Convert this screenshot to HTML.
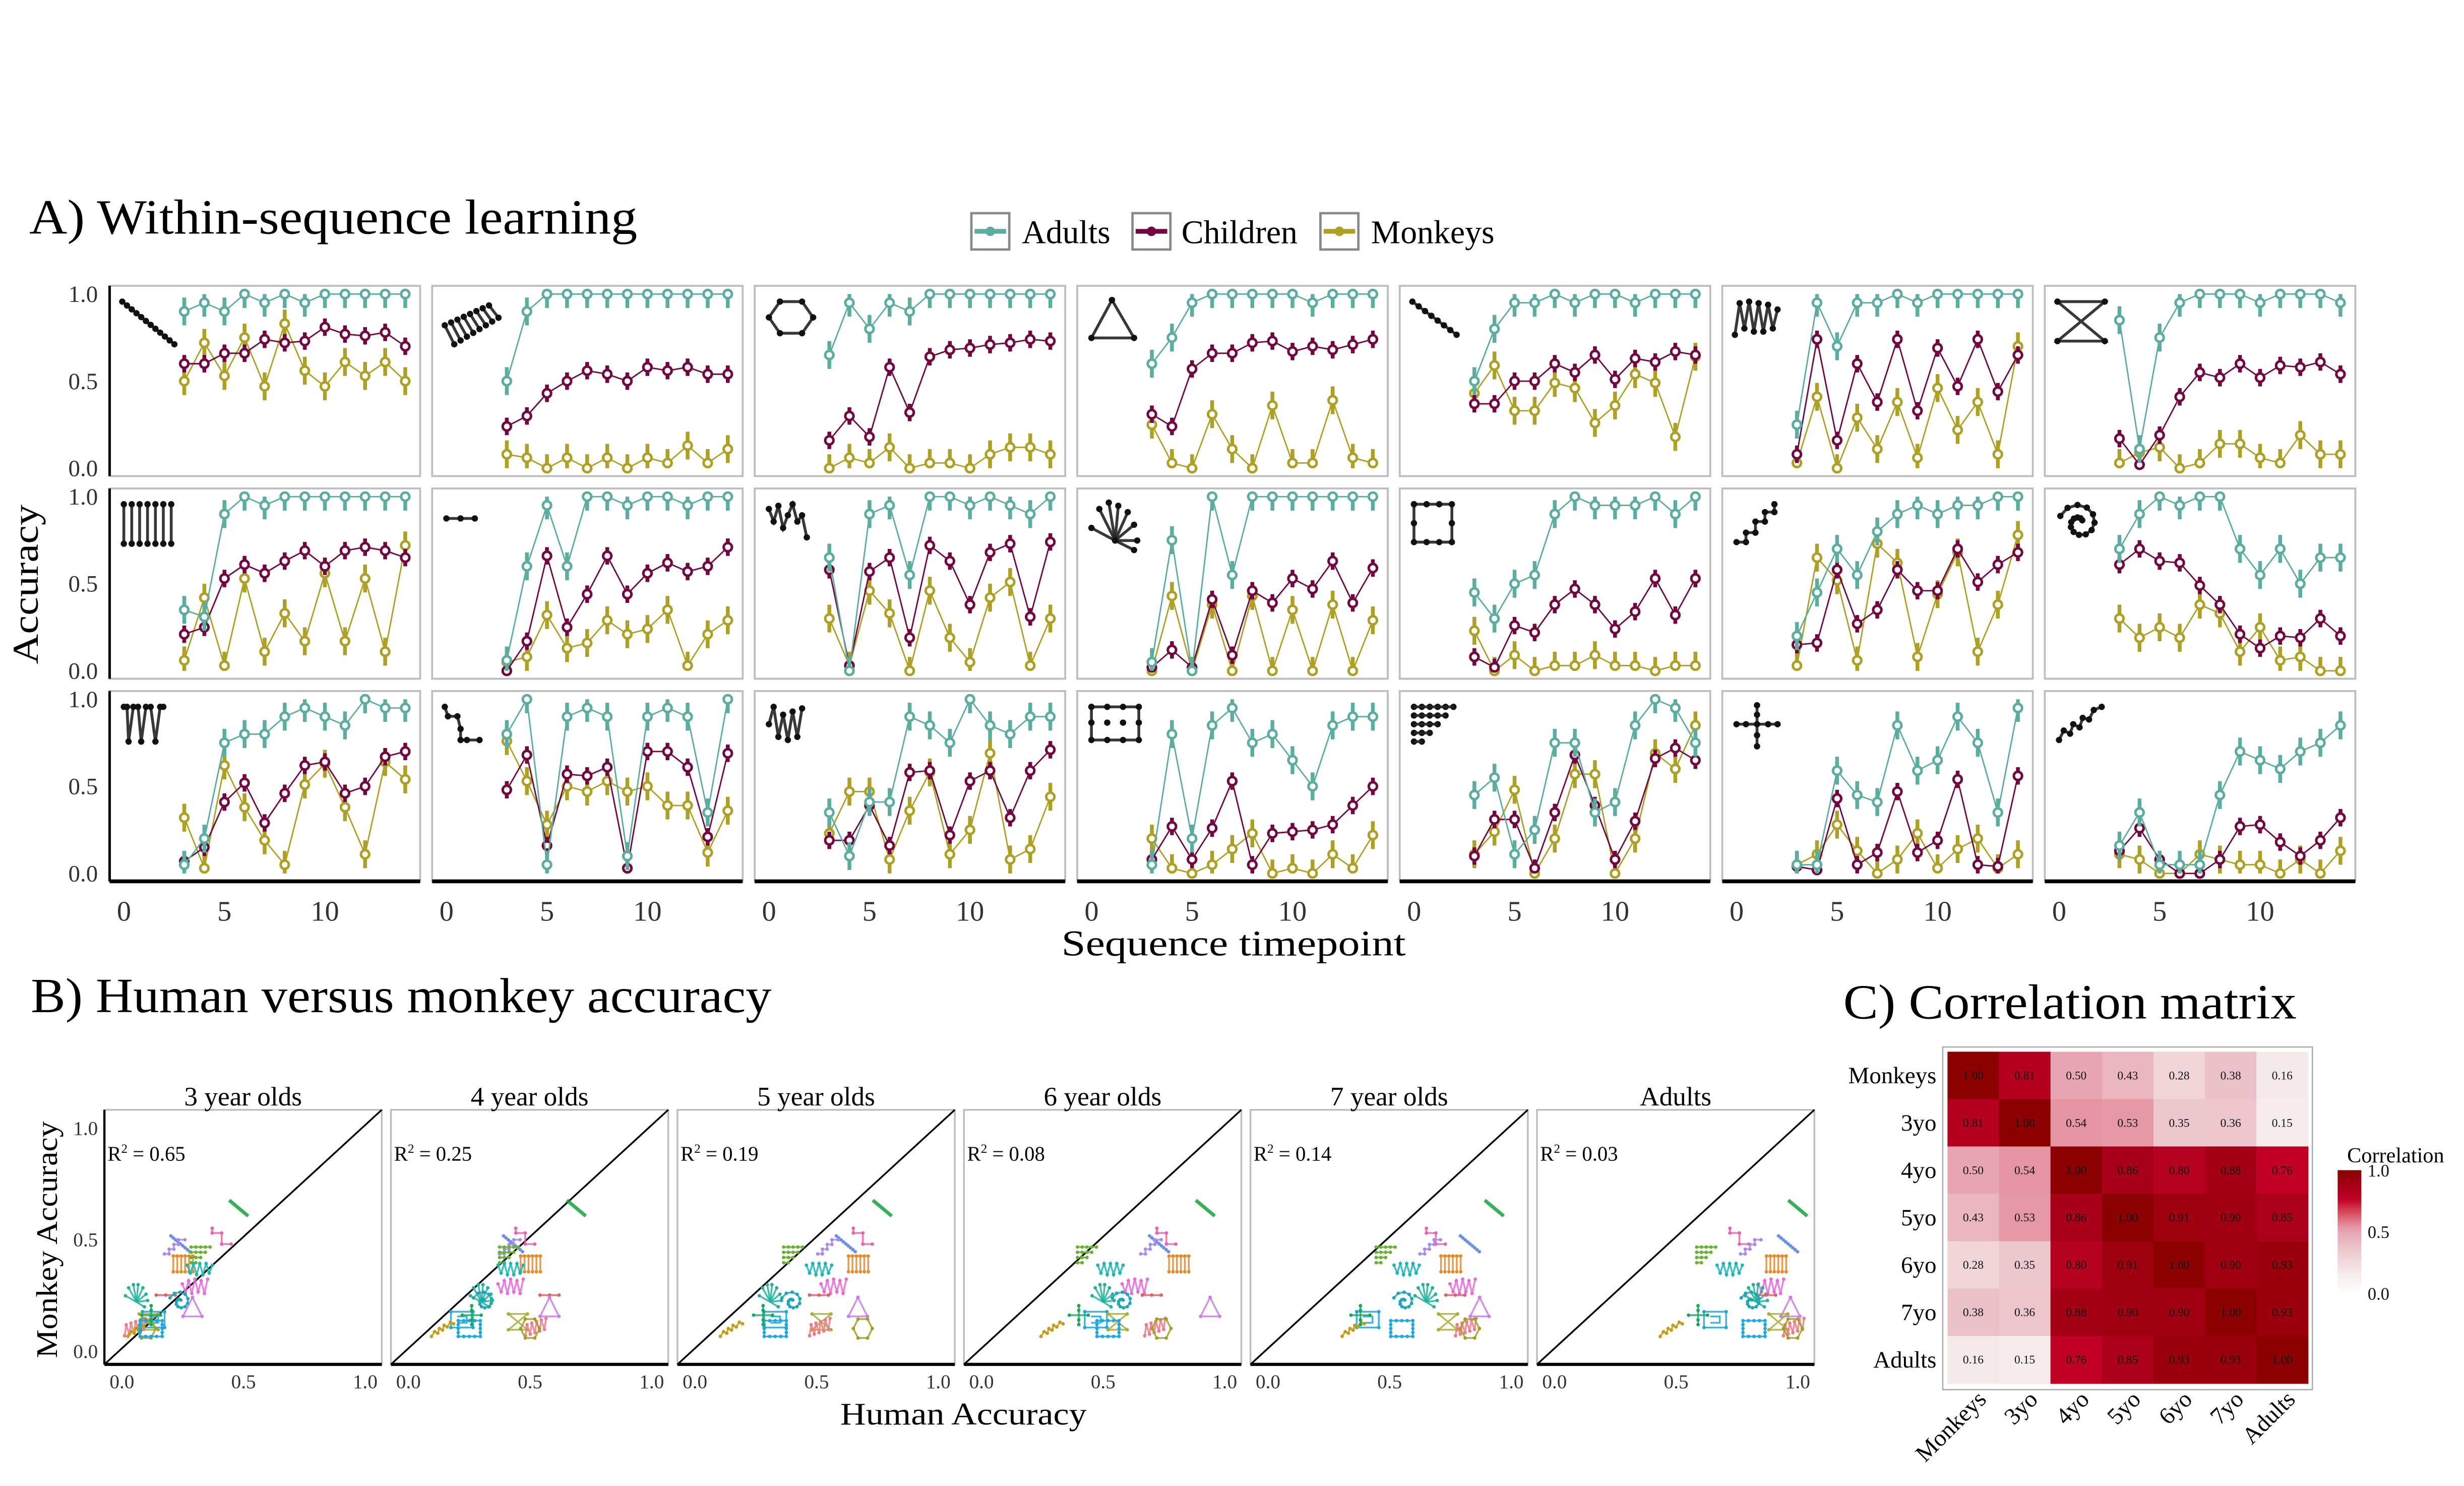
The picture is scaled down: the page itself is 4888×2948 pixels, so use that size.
<!DOCTYPE html>
<html><head><meta charset="utf-8"><style>
html,body{margin:0;padding:0;background:#fff;}
svg{display:block;}
text{font-family:"Liberation Serif",serif;}
</style></head>
<body>
<svg id="fig" xmlns="http://www.w3.org/2000/svg" width="4888" height="2948" viewBox="0 0 1560 941" preserveAspectRatio="none">
<rect x="0" y="0" width="1560" height="941" fill="#fff"/>
<text x="18.5" y="148" font-size="31" textLength="385" lengthAdjust="spacingAndGlyphs">A) Within-sequence learning</text>
<g>
 <g>
  <rect x="615" y="135" width="24" height="23" fill="#fff" stroke="#888" stroke-width="1.5"/>
  <line x1="617" y1="146.5" x2="637" y2="146.5" stroke="#5aae9f" stroke-width="3"/><circle cx="627" cy="146.5" r="3" fill="#5aae9f"/>
  <text x="647" y="154" font-size="21">Adults</text></g>
 <g>
  <rect x="717" y="135" width="24" height="23" fill="#fff" stroke="#888" stroke-width="1.5"/>
  <line x1="719" y1="146.5" x2="739" y2="146.5" stroke="#74053f" stroke-width="3"/><circle cx="729" cy="146.5" r="3" fill="#74053f"/>
  <text x="748" y="154" font-size="21">Children</text></g>
 <g>
  <rect x="836" y="135" width="24" height="23" fill="#fff" stroke="#888" stroke-width="1.5"/>
  <line x1="838" y1="146.5" x2="858" y2="146.5" stroke="#aea022" stroke-width="3"/><circle cx="848" cy="146.5" r="3" fill="#aea022"/>
  <text x="868" y="154" font-size="21">Monkeys</text></g>
</g>
<text transform="translate(24,370) rotate(-90)" text-anchor="middle" font-size="23" textLength="101" lengthAdjust="spacingAndGlyphs">Accuracy</text>
<text x="781" y="605" text-anchor="middle" font-size="23" textLength="218" lengthAdjust="spacingAndGlyphs">Sequence timepoint</text>
<g id="panelA"></g>

<text x="19.5" y="641" font-size="31" textLength="469" lengthAdjust="spacingAndGlyphs">B) Human versus monkey accuracy</text>
<text transform="translate(36,785) rotate(-90)" text-anchor="middle" font-size="19" textLength="150" lengthAdjust="spacingAndGlyphs">Monkey Accuracy</text>
<text x="610" y="902" text-anchor="middle" font-size="20" textLength="156" lengthAdjust="spacingAndGlyphs">Human Accuracy</text>
<g id="panelB"></g>

<text x="1167" y="645" font-size="31" textLength="287" lengthAdjust="spacingAndGlyphs">C) Correlation matrix</text>
<g id="panelC"></g>
</svg>
<script>
// ---------- Panel A data ----------
const timepoints = [3,4,5,6,7,8,9,10,11,12,13,14];
const xTickLabels = [0,5,10];
const yTickLabels = [0.0,0.5,1.0];
const adults = [
 [0.90,0.95,0.90,1,0.95,1,0.95,1,1,1,1,1],
 [0.50,0.90,1,1,1,1,1,1,1,1,1,1],
 [0.65,0.95,0.80,0.95,0.90,1,1,1,1,1,1,1],
 [0.60,0.75,0.95,1,1,1,1,1,0.95,1,1,1],
 [0.50,0.80,0.95,0.95,1,0.95,1,1,0.95,1,1,1],
 [0.25,0.95,0.70,0.95,0.95,1,0.95,1,1,1,1,1],
 [0.85,0.11,0.75,0.95,1,1,1,0.95,1,1,1,0.95],
 [0.35,0.31,0.90,1,0.95,1,1,1,1,1,1,1],
 [0.06,0.60,0.95,0.60,1,1,0.95,1,1,0.95,1,1],
 [0.65,0,0.90,0.95,0.55,1,1,0.95,1,0.95,0.90,1],
 [0.05,0.75,0,1,0.55,1,1,1,1,1,1,1],
 [0.45,0.30,0.50,0.55,0.90,1,0.95,0.95,0.95,1,0.90,1],
 [0.20,0.45,0.70,0.55,0.80,0.90,0.95,0.90,0.95,0.95,1,1],
 [0.70,0.90,1,0.95,1,1,0.70,0.55,0.70,0.50,0.65,0.65],
 [0.05,0.20,0.75,0.80,0.80,0.90,0.95,0.90,0.85,1,0.95,0.95],
 [0.80,1,0.05,0.90,0.95,0.90,0.10,0.90,0.95,0.90,0.35,1],
 [0.35,0.10,0.41,0.41,0.90,0.85,0.75,1,0.85,0.80,0.90,0.90],
 [0.05,0.80,0.20,0.85,0.95,0.75,0.80,0.65,0.50,0.85,0.90,0.90],
 [0.45,0.55,0.11,0.25,0.75,0.75,0.35,0.41,0.85,1,0.95,0.75],
 [0.05,0.05,0.59,0.45,0.41,0.85,0.59,0.65,0.90,0.75,0.35,0.95],
 [0.16,0.35,0.05,0.05,0.05,0.45,0.70,0.65,0.60,0.70,0.75,0.85]
];
const children = [
 [0.60,0.60,0.66,0.66,0.74,0.72,0.73,0.81,0.77,0.76,0.78,0.70],
 [0.24,0.30,0.43,0.50,0.56,0.54,0.50,0.58,0.56,0.58,0.54,0.54],
 [0.16,0.30,0.18,0.58,0.32,0.64,0.68,0.69,0.71,0.72,0.74,0.73],
 [0.31,0.24,0.57,0.66,0.66,0.72,0.73,0.67,0.70,0.68,0.71,0.74],
 [0.37,0.37,0.50,0.50,0.60,0.55,0.65,0.51,0.63,0.61,0.67,0.65],
 [0.08,0.74,0.16,0.60,0.38,0.74,0.33,0.69,0.47,0.74,0.44,0.65],
 [0.17,0.02,0.19,0.41,0.55,0.52,0.60,0.52,0.59,0.58,0.61,0.54],
 [0.21,0.25,0.53,0.61,0.56,0.63,0.69,0.60,0.69,0.71,0.69,0.65],
 [0,0.17,0.66,0.25,0.44,0.66,0.44,0.56,0.62,0.57,0.60,0.71],
 [0.58,0.03,0.57,0.65,0.19,0.72,0.63,0.38,0.68,0.73,0.31,0.74],
 [0.02,0.12,0.02,0.41,0.09,0.46,0.39,0.53,0.47,0.63,0.39,0.59],
 [0.08,0.02,0.26,0.22,0.38,0.47,0.38,0.24,0.34,0.53,0.32,0.53],
 [0.15,0.16,0.58,0.27,0.35,0.58,0.46,0.46,0.70,0.51,0.61,0.68],
 [0.61,0.70,0.63,0.62,0.49,0.38,0.21,0.13,0.20,0.19,0.30,0.20],
 [0.07,0.15,0.41,0.52,0.29,0.46,0.62,0.64,0.46,0.50,0.67,0.70],
 [0.48,0.68,0.16,0.57,0.56,0.61,0.03,0.70,0.70,0.61,0.21,0.69],
 [0.19,0.19,0.39,0.16,0.58,0.59,0.22,0.53,0.59,0.32,0.59,0.71],
 [0.08,0.27,0.08,0.26,0.53,0.05,0.23,0.24,0.25,0.28,0.39,0.50],
 [0.10,0.31,0.31,0.03,0.35,0.68,0.39,0.08,0.30,0.66,0.72,0.65],
 [0.04,0.02,0.43,0.05,0.12,0.47,0.12,0.19,0.54,0.05,0.04,0.56],
 [0.13,0.26,0.08,0,0,0.08,0.27,0.28,0.18,0.10,0.19,0.32]
];
const monkeys = [
 [0.50,0.72,0.53,0.75,0.47,0.83,0.56,0.47,0.61,0.53,0.61,0.50],
 [0.08,0.06,0,0.06,0,0.06,0,0.06,0.03,0.13,0.03,0.11],
 [0,0.06,0.03,0.12,0,0.03,0.03,0,0.08,0.12,0.12,0.08],
 [0.25,0.03,0,0.31,0.11,0,0.36,0.03,0.03,0.39,0.06,0.03],
 [0.43,0.59,0.33,0.33,0.49,0.46,0.26,0.36,0.54,0.49,0.18,0.64],
 [0.03,0.41,0,0.29,0.11,0.38,0.06,0.46,0.22,0.38,0.08,0.70],
 [0.03,0.09,0.12,0,0.03,0.14,0.14,0.06,0.03,0.19,0.08,0.08],
 [0.06,0.42,0.03,0.53,0.11,0.33,0.17,0.56,0.17,0.53,0.11,0.72],
 [0.05,0.08,0.32,0.13,0.16,0.29,0.21,0.24,0.35,0.03,0.21,0.29],
 [0.30,0.03,0.46,0.33,0,0.46,0.19,0.05,0.42,0.51,0.03,0.30],
 [0,0.43,0,0.38,0,0.43,0,0.35,0,0.38,0,0.29],
 [0.23,0,0.09,0,0.03,0.03,0.09,0.03,0.03,0,0.03,0.03],
 [0.03,0.65,0.52,0.06,0.73,0.62,0.08,0.44,0.68,0.11,0.38,0.78],
 [0.30,0.19,0.25,0.19,0.38,0.33,0.11,0.25,0.06,0.08,0,0],
 [0.32,0.03,0.62,0.38,0.19,0.05,0.51,0.63,0.38,0.11,0.64,0.54],
 [0.76,0.53,0.28,0.50,0.47,0.53,0.47,0.50,0.39,0.39,0.12,0.36],
 [0.23,0.47,0.47,0.08,0.36,0.58,0.11,0.25,0.69,0.08,0.14,0.44],
 [0.20,0.03,0,0.05,0.14,0.23,0,0.03,0,0.11,0.03,0.22],
 [0.11,0.24,0.48,0,0.20,0.57,0.57,0,0.20,0.69,0.60,0.85],
 [0.05,0.11,0.28,0.13,0,0.08,0.23,0.03,0.14,0.20,0.03,0.11],
 [0.11,0.08,0,0,0.11,0.08,0.05,0.05,0,0.08,0,0.13]
];
const adultErr = 0.08, childErr = 0.05, monkeyErr = 0.08;

// ---------- Panel B data ----------
const bGroups = ["3 year olds","4 year olds","5 year olds","6 year olds","7 year olds","Adults"];
const bR2 = ["0.65","0.25","0.19","0.08","0.14","0.03"];
const bTicks = [0.0,0.5,1.0];
const glyphNames = ["line","zig","diag","stairs","comb","trigrid","wave","mzig","fan","bar","spiral","triangle","gridsq","hourglass","pinkfan","gold","hexagon","opensq","cross"];
const monkeyAcc = [0.64,0.50,0.48,0.47,0.39,0.43,0.37,0.30,0.24,0.25,0.22,0.19,0.14,0.13,0.11,0.10,0.10,0.10,0.16];
const human3 = [0.48,0.41,0.24,0.22,0.25,0.33,0.32,0.30,0.06,0.18,0.24,0.29,0.13,0.11,0.05,0.07,0.10,0.12,0.12];
const human4 = [0.69,0.48,0.43,0.42,0.50,0.42,0.42,0.42,0.30,0.58,0.31,0.58,0.22,0.45,0.52,0.14,0.50,0.25,0.26];
const human5 = [0.77,0.69,0.62,0.55,0.67,0.41,0.51,0.57,0.31,0.51,0.40,0.67,0.33,0.52,0.51,0.15,0.69,0.33,0.28];
const human6 = [0.92,0.76,0.73,0.70,0.81,0.44,0.53,0.63,0.50,0.70,0.58,0.94,0.47,0.56,0.71,0.29,0.74,0.52,0.40];
const human7 = [0.93,0.69,0.83,0.67,0.75,0.49,0.57,0.80,0.65,0.77,0.56,0.87,0.41,0.74,0.81,0.35,0.83,0.55,0.38];
const humanAdult = [1.00,0.76,0.96,0.81,0.91,0.63,0.72,0.89,0.83,0.87,0.81,0.97,0.66,0.92,0.98,0.48,0.98,0.82,0.59];

// ---------- Panel C data ----------
const corrLabels = ["Monkeys","3yo","4yo","5yo","6yo","7yo","Adults"];
const corrValues = [
 [1.00,0.81,0.50,0.43,0.28,0.38,0.16],
 [0.81,1.00,0.54,0.53,0.35,0.36,0.15],
 [0.50,0.54,1.00,0.86,0.80,0.88,0.76],
 [0.43,0.53,0.86,1.00,0.91,0.90,0.85],
 [0.28,0.35,0.80,0.91,1.00,0.90,0.93],
 [0.38,0.36,0.88,0.90,0.90,1.00,0.93],
 [0.16,0.15,0.76,0.85,0.93,0.93,1.00]
];
const colorbarTicks = [0.0,0.5,1.0];

const NS = "http://www.w3.org/2000/svg";
function mk(tag, attrs, parent){const e=document.createElementNS(NS,tag);for(const k in attrs)e.setAttribute(k,attrs[k]);if(parent)parent.appendChild(e);return e;}

// ===== Panel A =====
const gA = document.getElementById("panelA");
const COLS = {adults:"#5aae9f", children:"#74053f", monkeys:"#aea022"};
const icons = [
 {pts:[[2,3],[35,30]], n:12},
 {zig:true},
 {poly:[[10,3],[24,3],[31,13],[24,23],[10,23],[3,13],[10,3]], dots:true},
 {poly:[[16,2],[3,26],[30,26],[16,2]], dots:true},
 {pts:[[2,3],[30,24]], n:8},
 {poly:[[2,24],[5,4],[8,20],[11,3],[14,22],[17,4],[20,22],[23,5],[26,20],[29,8]], dots:true},
 {poly:[[2,3],[32,3],[2,28],[32,28],[2,3]], dots:true},
 {comb:true},
 {poly:[[3,12],[12,12],[21,12]], dots:true},
 {poly:[[3,6],[6,14],[9,4],[12,18],[15,10],[18,3],[21,14],[24,10],[27,24]], dots:true},
 {fan:true},
 {poly:[[3,3],[27,3],[27,27],[3,27],[3,3]], dots:true, extra:[[11,3],[19,3],[11,27],[19,27],[3,15],[27,15]]},
 {poly:[[3,27],[9,27],[9,21],[15,21],[15,14],[21,14],[21,8],[27,8],[27,3]], dots:true},
 {spiral:true},
 {poly:[[3,3],[5,3],[6,25],[9,3],[12,3],[14,25],[17,3],[20,3],[23,25],[26,3],[28,3]], dots:true},
 {poly:[[2,3],[4,9],[10,9],[12,17],[12,24],[16,24],[24,24]], dots:true},
 {poly:[[3,14],[6,3],[9,22],[12,8],[15,24],[18,6],[21,22],[24,4]], dots:true},
 {poly:[[3,3],[33,3],[33,24],[3,24],[3,3]], dots:true, extra:[[13,3],[23,3],[3,13],[33,13],[13,24],[23,24],[13,13],[23,13]]},
 {rows:true},
 {cross:true},
 {poly:[[3,24],[6,18],[10,20],[12,14],[16,16],[18,10],[22,11],[25,5],[30,3]], dots:true}
];
function drawIcon(g, idx, ox, oy){
 const ic = icons[idx];
 const st = {stroke:"#222", "stroke-width":1.8, fill:"none", opacity:0.9};
 const dot=(x,y)=>mk("circle",{cx:ox+x,cy:oy+y,r:2,fill:"#111"},g);
 if(ic.pts){const [a,b]=ic.pts;mk("line",Object.assign({x1:ox+a[0],y1:oy+a[1],x2:ox+b[0],y2:oy+b[1]},st),g);
  for(let i=0;i<ic.n;i++){const t=i/(ic.n-1);dot(a[0]+(b[0]-a[0])*t,a[1]+(b[1]-a[1])*t);} }
 if(ic.poly){mk("polyline",Object.assign({points:ic.poly.map(p=>(ox+p[0])+","+(oy+p[1])).join(" ")},st),g);
  if(ic.dots) ic.poly.forEach(p=>dot(p[0],p[1])); if(ic.extra) ic.extra.forEach(p=>dot(p[0],p[1]));}
 if(ic.zig){const pts=[];for(let i=0;i<8;i++){pts.push([4+i*3.5,16-i*1.6]);pts.push([12+i*3.5,30-i*1.6-12]);}
  for(let i=0;i<8;i++){mk("line",Object.assign({x1:ox+2+i*4,y1:oy+18-i*1.8,x2:ox+8+i*4,y2:oy+30-i*2.4},st),g);dot(2+i*4,18-i*1.8);}
  for(let i=0;i<8;i++){dot(8+i*4,30-i*2.4+0);}
 }
 if(ic.comb){for(let i=0;i<7;i++){const x=3+i*5;mk("line",Object.assign({x1:ox+x,y1:oy+3,x2:ox+x,y2:oy+28},st),g);dot(x,3);dot(x,28);}}
 if(ic.fan){const c=[18,26];[[3,18],[8,6],[14,2],[20,4],[26,8],[30,16],[32,26],[30,32]].forEach(p=>{mk("line",Object.assign({x1:ox+c[0],y1:oy+c[1],x2:ox+p[0],y2:oy+p[1]},st),g);dot(p[0],p[1]);});dot(c[0],c[1]);}
 if(ic.spiral){const pts=[];for(let i=0;i<16;i++){const a=i*0.55,r=13-i*0.7;pts.push([16+r*Math.cos(a+3.5),15+r*Math.sin(a+3.5)]);}
  mk("polyline",Object.assign({points:pts.map(p=>(ox+p[0])+","+(oy+p[1])).join(" ")},st),g);pts.forEach(p=>dot(p[0],p[1]));}
 if(ic.rows){for(let r=0;r<5;r++){const n=6-r;for(let i=0;i<n;i++)dot(3+i*5,3+r*5.5);mk("line",Object.assign({x1:ox+3,y1:oy+3+r*5.5,x2:ox+3+(n-1)*5,y2:oy+3+r*5.5},st),g);}}
 if(ic.cross){mk("line",Object.assign({x1:ox+3,y1:oy+14,x2:ox+29,y2:oy+14},st),g);mk("line",Object.assign({x1:ox+16,y1:oy+2,x2:ox+16,y2:oy+28},st),g);
  [[3,14],[9,14],[16,14],[23,14],[29,14],[16,2],[16,8],[16,21],[16,28]].forEach(p=>dot(p[0],p[1]));}
}
const PW=196.6, PH=120.5;
for(let r=0;r<3;r++){
 for(let c=0;c<7;c++){
  const idx=r*7+c;
  const L=69.4+c*204.2, T=181+r*128.3;
  const g=mk("g",{},gA);
  
  
  const xS=t=>L+9.1+t*12.72;
  const yS=v=>T+5.2+(1-v)*110.3;
  const bg=mk("rect",{x:L,y:T,width:PW,height:PH,fill:"#fff",stroke:"#bdbdbd","stroke-width":1.2},g);
  
  
  if(c===0){const ax=mk("line",{x1:L,y1:T,x2:L,y2:T+PH,stroke:"#000","stroke-width":1.6},g);
   
   
   yTickLabels.forEach(v=>{const t=mk("text",{x:62,y:yS(v)+5,"text-anchor":"end","font-size":15,fill:"#333"},g);t.textContent=v.toFixed(1);
    
    });}
  if(r===2){const ax=mk("line",{x1:L,y1:T+PH,x2:L+PW,y2:T+PH,stroke:"#000","stroke-width":2.4},g);
   
   
   xTickLabels.forEach(v=>{const t=mk("text",{x:xS(v),y:583,"text-anchor":"middle","font-size":18,fill:"#333"},g);t.textContent=v;
    
    });}
  const ig=mk("g",{},g);
  
  
  drawIcon(ig, idx, L+6, T+7);
  const series=[["monkeys",monkeys[idx],monkeyErr],["children",children[idx],childErr],["adults",adults[idx],adultErr]];
  series.forEach(([nm,vals,err])=>{
   const col=COLS[nm];
   const sg=mk("g",{},g);
   
   
   const ln=mk("polyline",{points:vals.map((v,i)=>xS(timepoints[i])+","+yS(v)).join(" "),fill:"none",stroke:col,"stroke-width":0.9},sg);
   
   
   vals.forEach((v,i)=>{
    const x=xS(timepoints[i]), y=yS(v);
    const eb=mk("line",{x1:x,y1:yS(Math.min(1,v+err)),x2:x,y2:yS(Math.max(0,v-err)),stroke:col,"stroke-width":2.4},sg);
    
    
    const pt=mk("circle",{cx:x,cy:y,r:2.6,fill:"#fff",stroke:col,"stroke-width":1.6},sg);
    
    
   });
  });
 }
}

// ===== Panel B =====
const gB=document.getElementById("panelB");
const glyphColors=["#12a33a","#ee5fae","#6a8fe8","#a98aee","#e88a28","#66b32e","#1cb5b5","#e86ad8","#1fb39a","#e06060","#1aa8b8","#c77ce8","#1aa8e0","#a8b030","#f07a8a","#c89a10","#a0a020","#1aa8e0","#17a860"];
const glyphShapes={
 line:{p:[[-6,-5],[6,5]],d:false,w:2.2},
 zig:{p:[[-6,-7],[-6,-4],[0,-4],[0,3],[6,3]],d:true},
 diag:{p:[[-6,-5],[6,5]],d:true,n:9},
 stairs:{p:[[-7,5],[-4,5],[-4,2],[-1,2],[-1,-1],[2,-1],[2,-4],[6,-4]],d:true},
 comb:{comb:true},
 trigrid:{tri:true},
 wave:{p:[[-8,-2],[-6,3],[-4,-3],[-2,4],[0,-3],[2,4],[4,-3],[6,3],[8,-2]],d:true},
 mzig:{p:[[-8,0],[-6,5],[-4,-2],[-2,6],[0,-3],[2,5],[4,-2],[6,6],[8,-3]],d:true},
 fan:{fan:true},
 bar:{p:[[-6,0],[0,0],[6,0]],d:true},
 spiral:{spiral:true},
 triangle:{p:[[0,-7],[-6,5],[6,5],[0,-7]],d:true},
 gridsq:{p:[[-7,-5],[7,-5],[7,5],[-7,5],[-7,-5]],d:true,inner:true},
 hourglass:{p:[[-6,-5],[6,-5],[-6,5],[6,5],[-6,-5]],d:true},
 pinkfan:{p:[[-6,6],[-5,-1],[-3,5],[-2,-2],[0,4],[1,-3],[3,3],[4,-4],[6,2],[7,-5]],d:true},
 gold:{p:[[-7,5],[-5,2],[-3,3],[-2,0],[0,1],[1,-2],[3,-1],[5,-4],[7,-3]],d:true},
 hexagon:{p:[[-3,-6],[3,-6],[6,0],[3,6],[-3,6],[-6,0],[-3,-6]],d:true},
 opensq:{p:[[-7,-5],[7,-5],[7,5],[-7,5],[-7,-5]],d:true,n:4},
 cross:{p:[[-6,0],[6,0]],d:true,cross:true}
};
function drawGlyph(g,kind,cx,cy,col){
 const s=glyphShapes[kind];const st={stroke:col,"stroke-width":s.w||1.1,fill:"none",opacity:0.85};
 const dot=(x,y)=>mk("circle",{cx:cx+x,cy:cy+y,r:1.1,fill:col},g);
 const poly=(pts)=>mk("polyline",Object.assign({points:pts.map(p=>(cx+p[0])+","+(cy+p[1])).join(" ")},st),g);
 if(s.p){
  if(s.n){const a=s.p[0],b=s.p[1];
   if(kind==="diag"){poly(s.p);for(let i=0;i<s.n;i++){const t=i/(s.n-1);dot(a[0]+(b[0]-a[0])*t,a[1]+(b[1]-a[1])*t);}}
   else{poly(s.p);s.p.forEach((p,i)=>{if(i<4){const q=s.p[i+1];for(let k=0;k<4;k++){const t=k/4;dot(p[0]+(q[0]-p[0])*t,p[1]+(q[1]-p[1])*t);}}});}
  } else {poly(s.p); if(s.d) s.p.forEach(p=>dot(p[0],p[1]));}
  if(s.inner){poly([[-3,-2],[3,-2],[3,2],[-3,2]]);}
  if(s.cross){poly([[0,-6],[0,6]]);[[0,-6],[0,-3],[0,3],[0,6]].forEach(p=>dot(p[0],p[1]));}
 }
 if(s.comb){poly([[-7,-5],[7,-5]]);for(let i=0;i<6;i++){const x=-6+i*2.5;poly([[x,-5],[x,5]]);dot(x,-5);dot(x,5);}}
 if(s.tri){for(let r=0;r<4;r++){const n=5-r;poly([[-7,-5+r*3.3],[-7+(n-1)*3,-5+r*3.3]]);for(let i=0;i<n;i++)dot(-7+i*3,-5+r*3.3);}}
 if(s.fan){[[-7,-1],[-5,-6],[-2,-8],[1,-8],[4,-6],[6,-2],[7,2],[5,6]].forEach(p=>{poly([[0,3],p]);dot(p[0],p[1]);});}
 if(s.spiral){const pts=[];for(let i=0;i<14;i++){const a=i*0.6+3.5,r=7-i*0.45;pts.push([r*Math.cos(a),r*Math.sin(a)]);}poly(pts);pts.forEach(p=>dot(p[0],p[1]));}
}
const humanSets=[human3,human4,human5,human6,human7,humanAdult];
const BW=175.6, BT=702.8, BH=161.2;
for(let k=0;k<6;k++){
 const L=66.1+k*181.4;
 const g=mk("g",{},gB);
 
 
 const xS=v=>L+11.1+v*154;
 const yS=v=>855.4-v*141.2;
 const fr=mk("rect",{x:L,y:BT,width:BW,height:BH,fill:"#fff",stroke:"#bdbdbd","stroke-width":1.1},g);
 
 
 const ax=mk("line",{x1:L,y1:BT+BH,x2:L+BW,y2:BT+BH,stroke:"#000","stroke-width":2},g);
 
 
 if(k===0){const ay=mk("line",{x1:L,y1:BT,x2:L,y2:BT+BH,stroke:"#000","stroke-width":1.4},g);
  
  
  bTicks.forEach(v=>{const t=mk("text",{x:62,y:yS(v)+4.5,"text-anchor":"end","font-size":12.5,fill:"#333"},g);t.textContent=v.toFixed(1);
   
   });}
 const diag=mk("line",{x1:L,y1:BT+BH,x2:L+BW,y2:BT,stroke:"#000","stroke-width":1.1},g);
 
 
 bTicks.forEach(v=>{const t=mk("text",{x:xS(v),y:879,"text-anchor":"middle","font-size":12.5,fill:"#333"},g);t.textContent=v.toFixed(1);
  
  });
 const ti=mk("text",{x:L+BW/2,y:700,"text-anchor":"middle","font-size":17},g);ti.textContent=bGroups[k];
 
 
 const r2=mk("text",{x:L+2,y:735,"font-size":13},g);
 
 
 r2.innerHTML='R<tspan dy="-5" font-size="8">2</tspan><tspan dy="5"> = '+bR2[k]+'</tspan>';
 const hs=humanSets[k];
 glyphNames.forEach((nm,i)=>{
  const gg=mk("g",{},g);
  
  
  drawGlyph(gg,nm,xS(hs[i]),yS(monkeyAcc[i]),glyphColors[i]);
 });
}

// ===== Panel C =====
const gC=document.getElementById("panelC");
const stops=[[0,[255,255,255]],[0.15,[245,236,235]],[0.35,[236,200,206]],[0.5,[232,166,180]],[0.55,[227,143,157]],[0.7,[207,47,69]],[0.76,[192,0,36]],[0.85,[170,0,26]],[1.0,[139,0,0]]];
function colorOf(v){for(let i=1;i<stops.length;i++){if(v<=stops[i][0]){const a=stops[i-1],b=stops[i];const t=(v-a[0])/(b[0]-a[0]);
 const c=a[1].map((x,j)=>Math.round(x+(b[1][j]-x)*t));return "rgb("+c.join(",")+")";}}return "rgb(139,0,0)";}
const CX=1233, CY=666, CW=32.6, CH=30;
const frame=mk("rect",{x:1230,y:663,width:234,height:217,fill:"#fff",stroke:"#aaa","stroke-width":0.8},gC);


corrValues.forEach((row,ri)=>{
 row.forEach((v,ci)=>{
  const cell=mk("rect",{x:CX+ci*CW,y:CY+ri*CH,width:CW+0.3,height:CH+0.3,fill:colorOf(v)},gC);
  
  
  const t=mk("text",{x:CX+ci*CW+CW/2,y:CY+ri*CH+CH/2+2.5,"text-anchor":"middle","font-size":7.5,fill:"#111"},gC);
  t.textContent=v.toFixed(2);
  
  
 });
});
corrLabels.forEach((lb,i)=>{
 const t=mk("text",{x:1226,y:CY+i*CH+CH/2+5,"text-anchor":"end","font-size":15},gC);t.textContent=lb;
 
 
 const cx=CX+i*CW+CW/2+9, cy=887;
 const t2=mk("text",{x:cx,y:cy,"text-anchor":"end","font-size":15,transform:"rotate(-45 "+cx+" "+cy+")"},gC);t2.textContent=lb;
 
 
});
const defs=mk("defs",{},gC);
const lg=mk("linearGradient",{id:"cbar",x1:0,y1:1,x2:0,y2:0},defs);
for(let i=0;i<=20;i++){mk("stop",{offset:(i/20),"stop-color":colorOf(i/20)},lg);}
const cb=mk("rect",{x:1480,y:741,width:15,height:78,fill:"url(#cbar)"},gC);


const ct=mk("text",{x:1486,y:736,"font-size":13.5},gC);ct.textContent="Correlation";


colorbarTicks.forEach(v=>{const t=mk("text",{x:1499,y:819-v*78+4,"font-size":11,fill:"#111"},gC);t.textContent=v.toFixed(1);
 
 });
</script>
</body></html>
